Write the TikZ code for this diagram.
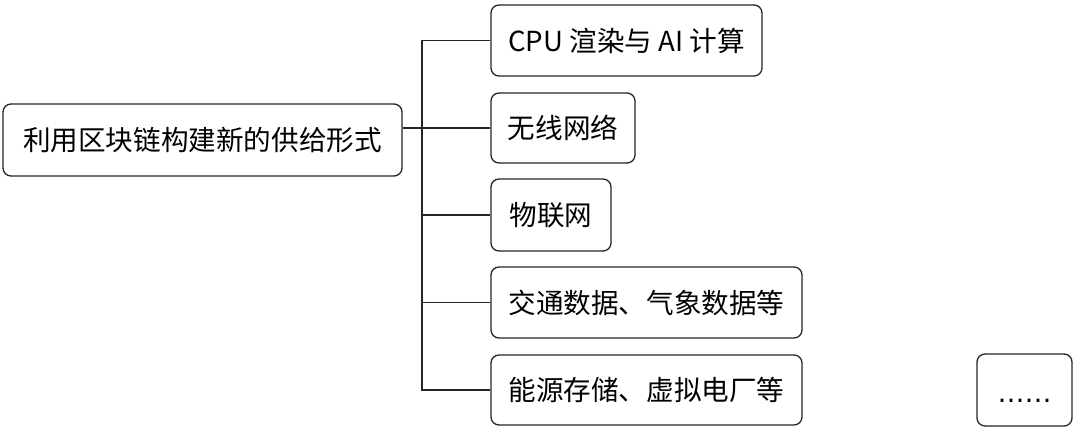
\documentclass[tikz,border=0pt]{standalone}
\usepackage{fontspec}
\setmainfont{Noto Sans CJK SC}
\newfontfamily\dotsfont{DejaVu Sans}
\begin{document}
\begin{tikzpicture}[x=1pt,y=-1pt,
  box/.style={draw=black!85, line width=1.3pt, rounded corners=8pt, inner sep=0pt, font=\fontsize{27.6}{30}\selectfont, text=black},
  link/.style={draw=black!85, line width=1.3pt}]
\fill[white] (0,0) rectangle (1080,431);
\useasboundingbox (0,0) rectangle (1080,431);
\node[box, minimum width=399pt, minimum height=72pt] (left) at (202.5,140) {利用区块链构建新的供给形式};
\node[box, minimum width=271pt, minimum height=71pt] (cpu) at (626.5,40.5) {CPU 渲染与 AI 计算};
\node[box, minimum width=144pt, minimum height=70pt] (wl) at (563,128) {无线网络};
\node[box, minimum width=120pt, minimum height=72pt] (iot) at (551,215) {物联网};
\node[box, minimum width=311pt, minimum height=71pt] (tr) at (646.5,302.5) {交通数据、气象数据等};
\node[box, minimum width=311pt, minimum height=70pt] (en) at (646.5,390) {能源存储、虚拟电厂等};
\node[box, minimum width=95pt, minimum height=72pt,
  label={[font=\dotsfont\fontsize{27}{30}\selectfont, inner sep=0pt, yshift=-11pt]center:……}] (more) at (1024.5,390) {};
\coordinate (top) at (422,40.5);
\coordinate (bot) at (422,390);
\draw[link] (cpu.west) -- (top) -- (bot) -- (en.west);
\draw[link] (iot.west) -- (iot.west -| top);
\draw[link] (tr.west) -- (tr.west -| top);
\draw[link] (wl.west -| left.east) -- (wl.west);
\end{tikzpicture}
\end{document}
